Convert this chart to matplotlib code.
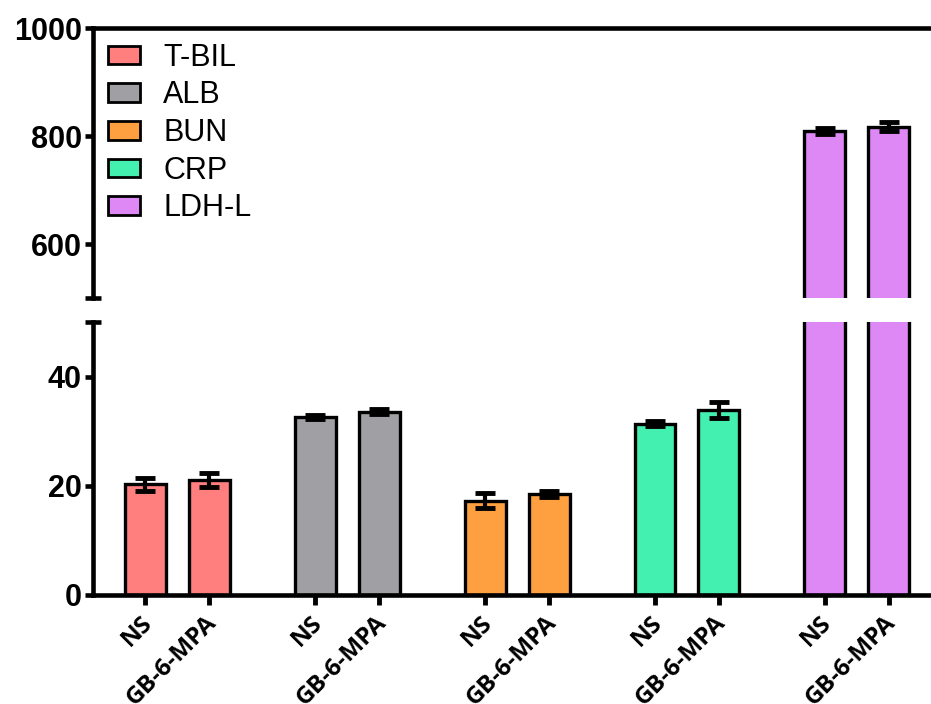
import numpy as np
import matplotlib
matplotlib.use("Agg")
import matplotlib.pyplot as plt
from matplotlib.patches import Patch
from matplotlib.transforms import ScaledTranslation

markers = ["T-BIL", "ALB", "BUN", "CRP", "LDH-L"]
groups = ["NS", "GB-6-MPA"]
means = [[20.3, 21.1], [32.6, 33.6], [17.3, 18.5], [31.4, 33.9], [809, 817]]
errs = [[1.2, 1.3], [0.4, 0.4], [1.3, 0.5], [0.4, 1.4], [6, 8]]
colors = ["#FF7F7F", "#A0A0A4", "#FFA040", "#44F0B0", "#DD88F5"]

group_step = 2.656
bar_w = 0.64

fig = plt.figure(figsize=(9.31, 7.04), dpi=100)
ax_top = fig.add_axes([93 / 931, 1 - 298 / 704, 838 / 931, 270 / 704])
ax_bot = fig.add_axes([93 / 931, 1 - 595 / 704, 838 / 931, 273 / 704])

xpos = []
xlabels = []
for i, m in enumerate(markers):
    for j in range(2):
        x = i * group_step + j
        xpos.append(x)
        xlabels.append(groups[j])
        for ax in (ax_top, ax_bot):
            ax.bar(x, means[i][j], width=bar_w, color=colors[i], edgecolor="black",
                   linewidth=2.4, zorder=2)
            ax.errorbar(x, means[i][j], yerr=errs[i][j], fmt="none", ecolor="black",
                        elinewidth=3, capsize=7, capthick=3.5, zorder=3)

x_right = xpos[-1] + 0.66
for ax in (ax_top, ax_bot):
    ax.set_xlim(-0.82, x_right)
    ax.spines["right"].set_visible(False)
    for s in ax.spines.values():
        s.set_linewidth(3.3)
    ax.tick_params(axis="y", length=6, width=3.3, pad=2, labelsize=22)

ax_top.set_ylim(500, 1000)
ax_top.set_yticks([600, 800, 1000])
ax_top.spines["bottom"].set_visible(False)
ax_top.tick_params(axis="x", bottom=False, labelbottom=False)

ax_bot.set_ylim(0, 50)
ax_bot.set_yticks([0, 20, 40])
ax_bot.spines["top"].set_visible(False)
ax_bot.set_xticks(xpos)
ax_bot.set_xticklabels(xlabels, rotation=45, ha="right", va="top",
                       rotation_mode="anchor", fontfamily="Open Sans",
                       fontweight="bold", fontsize=17.5)
ax_bot.tick_params(axis="x", length=7, width=3.5, pad=3)
shift = ScaledTranslation(-5 / 100, -2 / 100, fig.dpi_scale_trans)
for lab in ax_bot.get_xticklabels():
    lab.set_transform(lab.get_transform() + shift)

for ax in (ax_top, ax_bot):
    for lab in ax.get_yticklabels():
        lab.set_fontfamily("Liberation Sans")
        lab.set_fontweight("bold")

# break caps on the y axis
dx = 8 / 838
ax_top.plot([-dx, dx], [0, 0], color="black", lw=3.3, transform=ax_top.transAxes,
            clip_on=False, solid_capstyle="butt")
ax_bot.plot([-dx, dx], [1, 1], color="black", lw=3.3, transform=ax_bot.transAxes,
            clip_on=False, solid_capstyle="butt")

handles = [Patch(facecolor=c, edgecolor="black", linewidth=2, label=m)
           for c, m in zip(colors, markers)]
ax_top.legend(handles=handles, loc="upper left", bbox_to_anchor=(0.018, 0.945),
              frameon=False, borderpad=0, borderaxespad=0, handlelength=1.05,
              handleheight=0.56, handletextpad=0.75, labelspacing=0.25,
              prop={"family": "Liberation Sans", "size": 22})

fig.savefig("out.png", dpi=100)
